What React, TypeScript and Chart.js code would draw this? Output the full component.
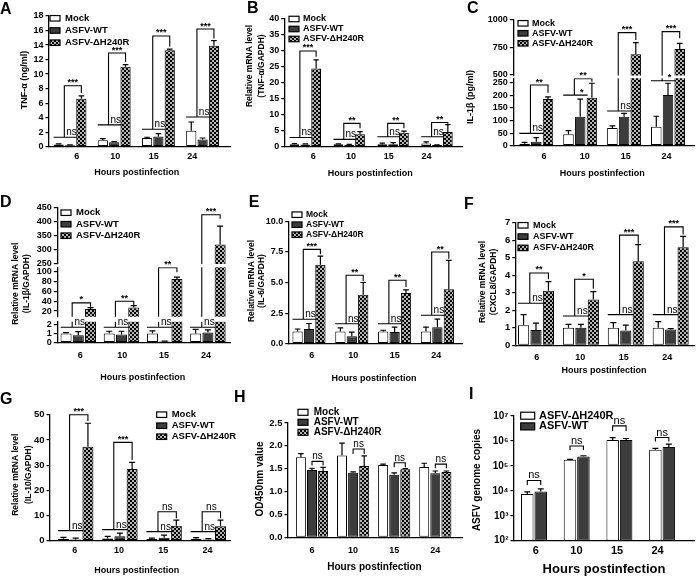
import React, { useEffect, useRef } from 'react';
import { Chart, registerables } from 'chart.js';

Chart.register(...registerables);

const FONT = "'Liberation Sans', Arial, Helvetica, sans-serif";

const HOURS = ['6', '10', '15', '24'];
const GROUPS = ['Mock', 'ASFV-WT', 'ASFV-ΔH240R'];
const GROUPS_I = ['ASFV-ΔH240R', 'ASFV-WT'];

// ---------- A : TNF-α protein ----------
const A_MOCK = [0.3, 0.9, 1.2, 2.2];
const A_MOCK_ERR = [0.1, 0.2, 0.1, 1.2];
const A_WT = [0.2, 0.6, 1.4, 1.0];
const A_WT_ERR = [0.05, 0.1, 0.4, 0.2];
const A_DH = [6.6, 11.0, 13.3, 13.9];
const A_DH_ERR = [0.4, 0.3, 0.15, 0.7];
const A_NS_Y = [1.3, 3.0, 2.4, 4.1];
const A_NS_TXT = ['ns', 'ns', 'ns', 'ns'];
const A_BR_TOP = [8.4, 12.9, 15.25, 16.2];
const A_BR_END = [7.4, 11.7, 13.8, 14.9];
const A_BR_TXT = ['***', '***', '***', '***'];
const A_Y_TICKS = [0, 2, 4, 6, 8, 10, 12, 14, 16, 18];

// ---------- B : TNF-α mRNA ----------
const B_MOCK = [0.8, 0.8, 0.8, 1.0];
const B_MOCK_ERR = [0.2, 0.1, 0.3, 0.5];
const B_WT = [0.7, 0.6, 0.8, 0.5];
const B_WT_ERR = [0.2, 0.1, 0.5, 0.1];
const B_DH = [24.5, 3.9, 4.4, 4.6];
const B_DH_ERR = [2.7, 0.8, 0.5, 2.3];
const B_NS_Y = [2.9, 2.3, 3.1, 3.1];
const B_NS_TXT = ['ns', 'ns', 'ns', 'ns'];
const B_BR_TOP = [30, 7.3, 7.3, 7.6];
const B_BR_END = [28.2, 5.8, 5.8, 7.2];
const B_BR_TXT = ['***', '**', '**', '**'];
const B_Y_TICKS = [0, 5, 10, 15, 20, 25, 30, 35, 40];

// ---------- C : IL-1β protein (broken axis) ----------
const C_MOCK = [8, 45, 70, 75];
const C_MOCK_ERR = [5, 15, 9, 42];
const C_WT = [16, 115, 115, 201];
const C_WT_ERR = [16, 70, 13, 47];
const C_DH = [185, 190, 688, 736];
const C_DH_ERR = [9, 58, 106, 52];
const C_NS_Y = [49, 201, 138, 258];
const C_NS_TXT = ['ns', '*', 'ns', '*'];
const C_BR_TOP = [241, 266, 885, 894];
const C_BR_END = [210, 254, 818, 833];
const C_BR_TXT = ['**', '**', '***', '***'];
const C_Y_TICKS_LOW = [0, 50, 100, 150, 200, 250];
const C_Y_TICKS_HIGH = [500, 750, 1000];

// ---------- D : IL-1β mRNA (broken axis) ----------
const D_MOCK = [1.0, 1.0, 1.0, 1.0];
const D_MOCK_ERR = [0.1, 0.25, 0.3, 0.45];
const D_WT = [0.8, 0.9, 0.1, 1.1];
const D_WT_ERR = [0.4, 0.35, 0.05, 0.3];
const D_DH = [24, 27, 85, 320];
const D_DH_ERR = [3, 4, 4, 65];
const D_NS_Y = [1.7, 1.7, 1.7, 1.7];
const D_NS_TXT = ['ns', 'ns', 'ns', 'ns'];
const D_BR_TOP = [36.6, 40, 108, 426];
const D_BR_END = [28.5, 32, 99, 412];
const D_BR_TXT = ['*', '**', '**', '***'];
const D_Y_TICKS_LOW = [0, 1, 2];
const D_Y_TICKS_MID = [20, 40, 60, 80, 100];
const D_Y_TICKS_HIGH = [250, 300, 350, 400, 450];

// ---------- E : IL-6 mRNA ----------
const E_MOCK = [1.0, 1.0, 1.0, 1.0];
const E_MOCK_ERR = [0.2, 0.3, 0.1, 0.35];
const E_WT = [1.2, 0.6, 0.95, 1.35];
const E_WT_ERR = [0.45, 0.35, 0.4, 0.65];
const E_DH = [6.45, 4.0, 4.15, 4.45];
const E_DH_ERR = [0.7, 1.0, 0.25, 2.35];
const E_NS_Y = [2.0, 1.63, 1.63, 2.32];
const E_NS_TXT = ['ns', 'ns', 'ns', 'ns'];
const E_BR_TOP = [7.71, 5.59, 5.18, 7.49];
const E_BR_END = [7.3, 5.1, 4.63, 6.95];
const E_BR_TXT = ['***', '**', '**', '**'];
const E_Y_TICKS = [0, 2.5, 5, 7.5, 10];

// ---------- F : CXCL8 mRNA ----------
const F_MOCK = [1.15, 1.0, 1.0, 1.0];
const F_MOCK_ERR = [0.6, 0.2, 0.3, 0.35];
const F_WT = [0.87, 1.0, 0.85, 0.9];
const F_WT_ERR = [0.4, 0.2, 0.3, 0.05];
const F_DH = [3.12, 2.62, 4.8, 5.6];
const F_DH_ERR = [0.52, 0.45, 0.95, 0.62];
const F_NS_Y = [2.4, 1.67, 1.75, 1.75];
const F_NS_TXT = ['ns', 'ns', 'ns', 'ns'];
const F_BR_TOP = [4.13, 3.77, 6.29, 6.76];
const F_BR_END = [3.77, 3.23, 5.8, 6.32];
const F_BR_TXT = ['**', '*', '***', '***'];
const F_Y_TICKS = [0, 1, 2, 3, 4, 5, 6, 7];

// ---------- G : IL-10 mRNA ----------
const G_MOCK = [0.8, 0.9, 0.7, 0.8];
const G_MOCK_ERR = [0.5, 0.8, 0.3, 0.4];
const G_WT = [0.5, 1.8, 1.2, 0.5];
const G_WT_ERR = [0.5, 1.2, 1.0, 0.3];
const G_DH = [37.3, 28.5, 5.9, 5.7];
const G_DH_ERR = [9.3, 2.6, 2.3, 2.5];
const G_NS_Y = [4.0, 4.4, 3.6, 3.6];
const G_NS_TXT = ['ns', 'ns', 'ns', 'ns'];
const G_BR_TOP = [50, 39, 11.5, 11.5];
const G_BR_END = [47.5, 32, 8.9, 8.9];
const G_BR_TXT = ['***', '***', 'ns', 'ns'];
const G_Y_TICKS = [0, 10, 20, 30, 40, 50];

// ---------- H : cell viability ----------
const H_MOCK = [1.75, 1.79, 1.58, 1.54];
const H_MOCK_ERR = [0.08, 0.27, 0.02, 0.08];
const H_WT = [1.47, 1.41, 1.37, 1.4];
const H_WT_ERR = [0.04, 0.02, 0.04, 0.05];
const H_DH = [1.45, 1.56, 1.49, 1.43];
const H_DH_ERR = [0.08, 0.22, 0.01, 0.02];
const H_BR_TOP = [1.66, 1.93, 1.63, 1.6];
const H_BR_END = [1.57, 1.82, 1.53, 1.51];
const H_BR_TXT = ['ns', 'ns', 'ns', 'ns'];
const H_Y_TICKS = [0, 0.5, 1.0, 1.5, 2.0, 2.5];

// ---------- I : genome copies ----------
const I_DH = [7400, 175000, 1100000, 440000];
const I_DH_ERR = [1700, 8000, 250000, 60000];
const I_WT = [9300, 240000, 1100000, 570000];
const I_WT_ERR = [2700, 15000, 150000, 170000];
const I_BR_TOP = [26000, 630000, 4000000, 1370000];
const I_BR_END = [17000, 430000, 2500000, 950000];
const I_BR_TXT = ['ns', 'ns', 'ns', 'ns'];
const I_Y_TICKS = [1e2, 1e3, 1e4, 1e5, 1e6, 1e7];

const SUP: Record<string, string> = { '0': '⁰', '1': '¹', '2': '²', '3': '³', '4': '⁴', '5': '⁵', '6': '⁶', '7': '⁷', '8': '⁸', '9': '⁹' };
const intFmt = (v: number) => String(v);
const oneDec = (v: number) => v.toFixed(1);
const powFmt = (v: number) => '10' + String(Math.round(Math.log10(v))).split('').map((c) => SUP[c]).join('');

const three = (m: number[], me: number[], w: number[], we: number[], d: number[], de: number[]) => [
  { label: GROUPS[0], data: m, err: me, fill: 'white' },
  { label: GROUPS[1], data: w, err: we, fill: 'dark' },
  { label: GROUPS[2], data: d, err: de, fill: 'check' },
];

const PANELS: any[] = [
  {
    id: 'A', x: 0, y: 0, w: 232, letter: { x: 0, y: 14 },
    plotLeft: 49, plotRight: 230, c1: 70, gap: 44.2, cp: 0.77, bp: 0.9,
    spread: 0.87, shift: -0.04, xPad: 4.9, xTickSize: 9, yTickSize: 9, yFmt: intFmt,
    segs: [{ min: 0, max: 18, top: 16, bottom: 146.7, ticks: A_Y_TICKS }],
    series: three(A_MOCK, A_MOCK_ERR, A_WT, A_WT_ERR, A_DH, A_DH_ERR),
    legend: { x: 50, y: 18.3, gap: 12.2, w: 10, h: 5.5, tx: 65, size: 9.5 },
    xTitle: { x: 136.7, y: 173, size: 9 },
    yTitle: { lines: ['TNF-α (ng/ml)'], x: 25, y: 80, gap: 0, size: 9 },
    ann: { mode: 'mw', nsY: A_NS_Y, nsTxt: A_NS_TXT, top: A_BR_TOP, end: A_BR_END, txt: A_BR_TXT },
    nsSize: 10,
  },
  {
    id: 'B', x: 232, y: 0, w: 232, letter: { x: 15, y: 13 },
    plotLeft: 52.7, plotRight: 230, c1: 73.3, gap: 43.9, cp: 0.74, bp: 0.9,
    spread: 0.86, shift: -0.03, xPad: 4.9, xTickSize: 9, yTickSize: 9, yFmt: intFmt,
    segs: [{ min: 0, max: 40, top: 19, bottom: 146.7, ticks: B_Y_TICKS }],
    series: three(B_MOCK, B_MOCK_ERR, B_WT, B_WT_ERR, B_DH, B_DH_ERR),
    legend: { x: 57, y: 19, gap: 10, w: 10, h: 5.5, tx: 71, size: 9 },
    xTitle: { x: 138.3, y: 174, size: 9 },
    yTitle: { lines: ['Relative mRNA level', '(TNF-α/GAPDH)'], x: 18, y: 66, gap: 12, size: 8.5 },
    ann: { mode: 'mw', nsY: B_NS_Y, nsTxt: B_NS_TXT, top: B_BR_TOP, end: B_BR_END, txt: B_BR_TXT },
    nsSize: 10,
  },
  {
    id: 'C', x: 464, y: 0, w: 232, letter: { x: 3, y: 13 },
    plotLeft: 49.3, plotRight: 230, c1: 72.3, gap: 43.9, cp: 0.8, bp: 0.9,
    spread: 0.93, shift: 0.07, xPad: 5.6, xTickSize: 9, yTickSize: 9, yFmt: intFmt,
    segs: [
      { min: 0, max: 268, top: 78.2, bottom: 145.7, ticks: C_Y_TICKS_LOW },
      { min: 495, max: 1000, top: 20, bottom: 75.55, ticks: C_Y_TICKS_HIGH },
    ],
    series: three(C_MOCK, C_MOCK_ERR, C_WT, C_WT_ERR, C_DH, C_DH_ERR),
    legend: { x: 54, y: 23.3, gap: 10, w: 10, h: 5.5, tx: 68, size: 9 },
    xTitle: { x: 138.3, y: 174, size: 9 },
    yTitle: { lines: ['IL-1β (pg/ml)'], x: 7, y: 97, gap: 0, size: 9 },
    ann: { mode: 'mw', nsY: C_NS_Y, nsTxt: C_NS_TXT, top: C_BR_TOP, end: C_BR_END, txt: C_BR_TXT },
    nsSize: 10,
  },
  {
    id: 'D', x: 0, y: 192, w: 232, letter: { x: 0, y: 15 },
    plotLeft: 57.3, plotRight: 230, c1: 78.3, gap: 43.2, cp: 0.85, bp: 0.9,
    spread: 0.97, shift: 0, xPad: 7.4, xTickSize: 9, yTickSize: 9, yFmt: intFmt,
    segs: [
      { min: 0, max: 2.3, top: 129.8, bottom: 150.5, ticks: D_Y_TICKS_LOW },
      { min: 8.5, max: 109, top: 75.2, bottom: 124.7, ticks: D_Y_TICKS_MID },
      { min: 250, max: 450, top: 16, bottom: 72, ticks: D_Y_TICKS_HIGH },
    ],
    series: three(D_MOCK, D_MOCK_ERR, D_WT, D_WT_ERR, D_DH, D_DH_ERR),
    legend: { x: 61, y: 20.7, gap: 11.5, w: 10, h: 5.5, tx: 76, size: 9.5 },
    xTitle: { x: 142.7, y: 186, size: 9 },
    yTitle: { lines: ['Relative mRNA level', '(IL-1β/GAPDH)'], x: 16, y: 91.7, gap: 10.7, size: 8.5 },
    ann: { mode: 'mw', nsY: D_NS_Y, nsTxt: D_NS_TXT, top: D_BR_TOP, end: D_BR_END, txt: D_BR_TXT },
    nsSize: 10,
  },
  {
    id: 'E', x: 232, y: 192, w: 232, letter: { x: 16.7, y: 15 },
    plotLeft: 56.7, plotRight: 230, c1: 77, gap: 42.8, cp: 0.8, bp: 0.9,
    spread: 0.97, shift: 0.02, xPad: 6.2, xTickSize: 9, yTickSize: 9, yFmt: oneDec,
    segs: [{ min: 0, max: 10, top: 29.3, bottom: 151.7, ticks: E_Y_TICKS }],
    series: three(E_MOCK, E_MOCK_ERR, E_WT, E_WT_ERR, E_DH, E_DH_ERR),
    legend: { x: 60, y: 22.7, gap: 10, w: 10, h: 5.5, tx: 74, size: 8.5 },
    xTitle: { x: 142, y: 186.7, size: 9 },
    yTitle: { lines: ['Relative mRNA level', '(IL-6/GAPDH)'], x: 20, y: 89, gap: 10, size: 8.5 },
    ann: { mode: 'mw', nsY: E_NS_Y, nsTxt: E_NS_TXT, top: E_BR_TOP, end: E_BR_END, txt: E_BR_TXT },
    nsSize: 10,
  },
  {
    id: 'F', x: 464, y: 192, w: 232, letter: { x: 0, y: 16.7 },
    plotLeft: 51.7, plotRight: 230, c1: 72, gap: 44.9, cp: 0.83, bp: 0.9,
    spread: 0.97, shift: -0.03, xPad: 7.3, xTickSize: 9, yTickSize: 9.5, yFmt: intFmt,
    segs: [{ min: 0, max: 7, top: 30.7, bottom: 153.3, ticks: F_Y_TICKS }],
    series: three(F_MOCK, F_MOCK_ERR, F_WT, F_WT_ERR, F_DH, F_DH_ERR),
    legend: { x: 54, y: 33.3, gap: 11.3, w: 10, h: 5.5, tx: 69, size: 9 },
    xTitle: { x: 140, y: 178.3, size: 9 },
    yTitle: { lines: ['Relative mRNA level', '(CXCL8/GAPDH)'], x: 18.3, y: 90, gap: 11, size: 8.5 },
    ann: { mode: 'mw', nsY: F_NS_Y, nsTxt: F_NS_TXT, top: F_BR_TOP, end: F_BR_END, txt: F_BR_TXT },
    nsSize: 10,
  },
  {
    id: 'G', x: 0, y: 384, w: 240, letter: { x: 0, y: 20 },
    plotLeft: 50, plotRight: 230, c1: 75.7, gap: 44.2, cp: 0.83, bp: 0.9,
    spread: 1, shift: -0.02, xPad: 4.6, xTickSize: 9, yTickSize: 9.5, yFmt: intFmt,
    segs: [{ min: 0, max: 50, top: 30.7, bottom: 156.7, ticks: G_Y_TICKS }],
    series: three(G_MOCK, G_MOCK_ERR, G_WT, G_WT_ERR, G_DH, G_DH_ERR),
    legend: { x: 156.7, y: 30.7, gap: 11, w: 10, h: 5.5, tx: 171.7, size: 9.5 },
    xTitle: { x: 136.7, y: 186.7, size: 9 },
    yTitle: { lines: ['Relative mRNA level', '(IL-10/GAPDH)'], x: 16, y: 90.7, gap: 12.3, size: 8.5 },
    ann: { mode: 'mw', nsY: G_NS_Y, nsTxt: G_NS_TXT, top: G_BR_TOP, end: G_BR_END, txt: G_BR_TXT },
    nsSize: 10,
  },
  {
    id: 'H', x: 232, y: 384, w: 232, letter: { x: 2, y: 18.3 },
    plotLeft: 56, plotRight: 230, c1: 80, gap: 41.1, cp: 0.81, bp: 0.9,
    spread: 1, shift: 0, xPad: 8, xTickSize: 9, yTickSize: 9.5, yFmt: oneDec,
    segs: [{ min: 0, max: 2.5, top: 39, bottom: 153.3, ticks: H_Y_TICKS }],
    series: three(H_MOCK, H_MOCK_ERR, H_WT, H_WT_ERR, H_DH, H_DH_ERR),
    legend: { x: 66, y: 28.3, gap: 10, w: 10, h: 6, tx: 81.7, size: 10 },
    xTitle: { x: 142.5, y: 183.3, size: 10 },
    yTitle: { lines: ['OD450nm value'], x: 28.3, y: 95, gap: 0, size: 10 },
    ann: { mode: 'pair', a: 1, b: 2, top: H_BR_TOP, end: H_BR_END, txt: H_BR_TXT },
    nsSize: 10,
  },
  {
    id: 'I', x: 464, y: 384, w: 232, letter: { x: 5, y: 15 },
    plotLeft: 50, plotRight: 230, c1: 70, gap: 42.7, cp: 0.63, bp: 0.93,
    spread: 0.95, shift: -0.03, xPad: 3.4, xTickSize: 11, yTickSize: 10, yFmt: powFmt, log: true,
    segs: [{ min: 1e2, max: 1e7, top: 32, bottom: 156.7, ticks: I_Y_TICKS }],
    series: [
      { label: GROUPS_I[0], data: I_DH, err: I_DH_ERR, fill: 'white' },
      { label: GROUPS_I[1], data: I_WT, err: I_WT_ERR, fill: 'dark' },
    ],
    legend: { x: 56.7, y: 31.7, gap: 10.7, w: 14, h: 7, tx: 75, size: 11 },
    xTitle: { x: 140, y: 185, size: 13 },
    yTitle: { lines: ['ASFV genome copies'], x: 13.3, y: 96, gap: 0, size: 10 },
    ann: { mode: 'pair', a: 0, b: 1, top: I_BR_TOP, end: I_BR_END, txt: I_BR_TXT },
    nsSize: 11,
  },
];

let PATTERN: any = null;
function getPattern() {
  if (PATTERN) return PATTERN;
  const c = document.createElement('canvas');
  c.width = 4;
  c.height = 4;
  const g = c.getContext('2d')!;
  g.fillStyle = '#050505';
  g.fillRect(0, 0, 4, 4);
  g.fillStyle = '#b4b4b4';
  g.fillRect(0, 0, 2, 2);
  g.fillRect(2, 2, 2, 2);
  PATTERN = g.createPattern(c, 'repeat');
  return PATTERN;
}

function fillOf(f: string) {
  if (f === 'white') return '#ffffff';
  if (f === 'dark') return '#3d3d3d';
  return getPattern();
}

function buildConfig(spec: any, si: number) {
  const seg = spec.segs[si];
  const nSeg = spec.segs.length;
  const isBottom = si === 0;
  const isTop = si === nSeg - 1;
  const W = spec.w;
  const H = 192;
  const c4 = spec.c1 + 3 * spec.gap;
  const xMin = 1 - (spec.c1 - spec.plotLeft) / spec.gap;
  const xMax = 4 + (spec.plotRight - c4) / spec.gap;
  const tickPos = HOURS.map((_, i) => 2.5 + (i + 1 - 2.5) * spec.spread + spec.shift);
  const minSpacing = Math.min(1, spec.spread);

  const owner = (v: number) => {
    let k = 0;
    spec.segs.forEach((s: any, j: number) => {
      if (v >= s.min) k = j;
    });
    return k;
  };

  const clipSeg = (ctx: CanvasRenderingContext2D, area: any) => {
    if (nSeg < 2) return;
    const top = isTop ? 0 : area.top;
    ctx.beginPath();
    ctx.rect(0, top, W, area.bottom - top);
    ctx.clip();
  };

  const textAt = (ctx: CanvasRenderingContext2D, t: string, x: number, y: number) => {
    const star = t.indexOf('*') >= 0;
    ctx.save();
    ctx.fillStyle = '#000';
    ctx.font = star ? `bold 9px ${FONT}` : `${spec.nsSize}px ${FONT}`;
    ctx.textAlign = 'center';
    ctx.textBaseline = 'alphabetic';
    ctx.fillText(t, x, star ? y - 0.5 : y - 2);
    ctx.restore();
  };

  const decor = {
    id: 'decor' + spec.id + si,
    afterDatasetsDraw(chart: any) {
      const ctx = chart.ctx;
      const ys = chart.scales.y;
      ctx.save();
      clipSeg(ctx, chart.chartArea);
      ctx.strokeStyle = '#000';
      ctx.lineWidth = 1.2;
      spec.series.forEach((s: any, d: number) => {
        const meta = chart.getDatasetMeta(d);
        meta.data.forEach((el: any, i: number) => {
          const e = s.err[i];
          if (!e) return;
          const x = el.x;
          const yb = ys.getPixelForValue(s.data[i]);
          const yt = ys.getPixelForValue(s.data[i] + e);
          const cap = Math.min(6, el.width * 0.55);
          ctx.beginPath();
          ctx.moveTo(x, yb);
          ctx.lineTo(x, yt);
          ctx.moveTo(x - cap / 2, yt);
          ctx.lineTo(x + cap / 2, yt);
          ctx.stroke();
        });
      });
      ctx.restore();
    },
    afterDraw(chart: any) {
      const ctx = chart.ctx;
      const ys = chart.scales.y;
      const py = (v: number) => ys.getPixelForValue(v);
      const el = (d: number, g: number) => chart.getDatasetMeta(d).data[g];
      const ann = spec.ann;

      ctx.save();
      clipSeg(ctx, chart.chartArea);
      ctx.strokeStyle = '#000';
      ctx.lineWidth = 1.1;
      for (let g = 0; g < 4; g++) {
        ctx.beginPath();
        if (ann.mode === 'mw') {
          const m = el(0, g), w = el(1, g), d = el(2, g);
          const ny = py(ann.nsY[g]);
          ctx.moveTo(m.x - m.width / 2, ny);
          ctx.lineTo(d.x - d.width / 2 + 1, ny);
          const xl = (m.x + w.x) / 2;
          const top = py(ann.top[g]);
          ctx.moveTo(xl, ny);
          ctx.lineTo(xl, top);
          ctx.lineTo(d.x, top);
          ctx.lineTo(d.x, py(ann.end[g]));
        } else {
          const a = el(ann.a, g), b = el(ann.b, g);
          const top = py(ann.top[g]);
          const end = py(ann.end[g]);
          ctx.moveTo(a.x, end);
          ctx.lineTo(a.x, top);
          ctx.lineTo(b.x, top);
          ctx.lineTo(b.x, end);
        }
        ctx.stroke();
      }
      ctx.restore();

      for (let g = 0; g < 4; g++) {
        if (ann.mode === 'mw') {
          const m = el(0, g), w = el(1, g), d = el(2, g);
          if (owner(ann.nsY[g]) === si) textAt(ctx, ann.nsTxt[g], w.x + 1.5, py(ann.nsY[g]));
          if (owner(ann.top[g]) === si) textAt(ctx, ann.txt[g], ((m.x + w.x) / 2 + d.x) / 2, py(ann.top[g]));
        } else {
          const a = el(ann.a, g), b = el(ann.b, g);
          if (owner(ann.top[g]) === si) textAt(ctx, ann.txt[g], (a.x + b.x) / 2, py(ann.top[g]));
        }
      }

      if (!isBottom) return;
      ctx.save();
      ctx.fillStyle = '#000';
      ctx.font = `bold 16px ${FONT}`;
      ctx.textAlign = 'left';
      ctx.textBaseline = 'alphabetic';
      ctx.fillText(spec.id, spec.letter.x, spec.letter.y);

      const L = spec.legend;
      spec.series.forEach((s: any, k: number) => {
        const cy = L.y + k * L.gap;
        ctx.fillStyle = fillOf(s.fill);
        ctx.fillRect(L.x, cy - L.h / 2, L.w, L.h);
        ctx.strokeStyle = '#000';
        ctx.lineWidth = 1.2;
        ctx.strokeRect(L.x, cy - L.h / 2, L.w, L.h);
        ctx.fillStyle = '#000';
        ctx.font = `bold ${L.size}px ${FONT}`;
        ctx.textAlign = 'left';
        ctx.textBaseline = 'middle';
        ctx.fillText(s.label, L.tx, cy);
      });

      const XT = spec.xTitle;
      ctx.font = `bold ${XT.size}px ${FONT}`;
      ctx.textAlign = 'center';
      ctx.textBaseline = 'middle';
      ctx.fillText('Hours postinfection', XT.x, XT.y);

      const YT = spec.yTitle;
      ctx.translate(YT.x, YT.y);
      ctx.rotate(-Math.PI / 2);
      ctx.font = `bold ${YT.size}px ${FONT}`;
      YT.lines.forEach((t: string, k: number) => ctx.fillText(t, 0, k * YT.gap));
      ctx.restore();
    },
  };

  return {
    type: 'bar',
    data: {
      datasets: spec.series.map((s: any) => ({
        label: s.label,
        data: s.data.map((v: number, i: number) => ({ x: i + 1, y: v })),
        backgroundColor: fillOf(s.fill),
        borderColor: '#000',
        borderWidth: 1,
        borderSkipped: false,
        categoryPercentage: spec.cp / minSpacing,
        barPercentage: spec.bp,
        clip: 0,
      })),
    },
    options: {
      animation: false,
      responsive: false,
      devicePixelRatio: 1,
      events: [],
      layout: {
        autoPadding: false,
        padding: { left: 0, top: seg.top, right: W - spec.plotRight, bottom: isBottom ? 0 : H - seg.bottom },
      },
      plugins: { legend: { display: false }, tooltip: { enabled: false }, title: { display: false } },
      scales: {
        x: {
          type: 'linear',
          min: xMin,
          max: xMax,
          display: isBottom,
          offset: false,
          grid: { display: false, drawTicks: false },
          border: { display: true, color: '#000', width: 1.3 },
          ticks: {
            autoSkip: false,
            maxRotation: 0,
            minRotation: 0,
            padding: spec.xPad,
            color: '#000',
            font: { family: FONT, size: spec.xTickSize, weight: 'bold' },
            callback: (_v: any, i: number) => HOURS[i] ?? '',
          },
          afterBuildTicks: (sc: any) => {
            sc.ticks = tickPos.map((v) => ({ value: v }));
          },
          afterFit: (sc: any) => {
            sc.height = isBottom ? H - seg.bottom : 0;
          },
        },
        y: {
          type: spec.log ? 'logarithmic' : 'linear',
          min: seg.min,
          max: seg.max,
          grid: { display: true, drawOnChartArea: false, drawTicks: true, tickLength: 3.5, color: '#000', lineWidth: 1.2 },
          border: { display: true, color: '#000', width: 1.3 },
          ticks: {
            autoSkip: false,
            padding: 2,
            color: '#000',
            font: { family: FONT, size: spec.yTickSize, weight: 'bold' },
            callback: (v: any) => spec.yFmt(Number(v)),
          },
          afterBuildTicks: (sc: any) => {
            sc.ticks = seg.ticks.map((v: number) => ({ value: v }));
          },
          afterFit: (sc: any) => {
            sc.width = spec.plotLeft;
          },
        },
      },
    },
    plugins: [decor],
  };
}

function SegCanvas({ spec, si }: { spec: any; si: number }) {
  const ref = useRef<HTMLCanvasElement>(null);
  useEffect(() => {
    const chart = new Chart(ref.current as HTMLCanvasElement, buildConfig(spec, si) as any);
    return () => chart.destroy();
  }, [spec, si]);
  return (
    <canvas
      ref={ref}
      width={spec.w}
      height={192}
      style={{ position: 'absolute', left: 0, top: 0, width: spec.w, height: 192 }}
    />
  );
}

function Panel({ spec }: { spec: any }) {
  return (
    <div style={{ position: 'absolute', left: spec.x, top: spec.y, width: spec.w, height: 192 }}>
      {spec.segs.map((_: any, si: number) => (
        <SegCanvas key={si} spec={spec} si={si} />
      ))}
    </div>
  );
}

export default function App() {
  return (
    <div
      style={{
        position: 'absolute',
        left: 0,
        top: 0,
        width: 696,
        height: 576,
        overflow: 'hidden',
        background: '#ffffff',
      }}
    >
      {PANELS.map((p) => (
        <Panel key={p.id} spec={p} />
      ))}
    </div>
  );
}
